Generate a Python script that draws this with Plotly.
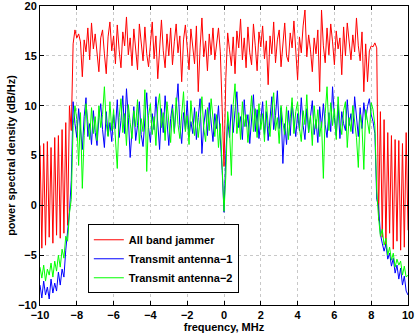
import plotly.graph_objects as go

# frequency grid, MHz (0.1 MHz steps from -10 to 10)
F_START = -10.0
F_STEP = 0.1

jammer = [
    6.0, -4.3, 6.2, -4.0, 6.4, -3.2, 5.8, -3.8, 6.8, -3.0,
    7.0, -3.3, 7.6, -2.8, 8.3, -2.0, 10.0, 7.5, 16.2, 17.6,
    16.8, 17.2, 16.4, 12.9, 16.6, 15.4, 17.8, 14.6, 18.3, 15.7,
    17.2, 15.0, 13.4, 16.8, 17.6, 15.2, 13.2, 16.9, 18.4, 15.5,
    17.0, 14.2, 18.1, 15.6, 13.8, 17.4, 16.0, 18.9, 15.1, 16.8,
    14.0, 17.7, 15.3, 13.6, 18.2, 16.1, 14.5, 17.9, 15.2, 13.9,
    16.6, 18.4, 14.7, 17.0, 12.7, 16.3, 18.6, 15.5, 13.8, 17.2,
    15.0, 17.8, 14.1, 16.4, 18.2, 15.3, 17.0, 12.4, 16.6, 18.1,
    15.4, 13.6, 17.7, 16.0, 14.2, 18.0, 11.4, 15.8, 18.8, 14.9,
    16.5, 13.5, 17.2, 15.1, 17.8, 14.6, 16.3, 17.8, 15.4, 10.5,
    3.9, 12.8, 17.3, 15.6, 14.0, 16.9, 13.2, 17.5, 15.8, 18.7,
    14.6, 16.8, 13.8, 17.9, 15.3, 14.1, 18.2, 16.0, 13.5, 17.4,
    15.9, 18.0, 14.7, 16.5, 12.1, 17.0, 15.2, 18.4, 14.3, 16.6,
    17.6, 13.9, 16.2, 18.3, 15.0, 14.4, 17.3, 15.8, 18.5, 14.8,
    12.6, 16.9, 15.3, 18.0, 19.6, 14.9, 17.1, 15.6, 13.4, 16.8,
    15.2, 17.6, 11.4, 19.6, 16.0, 14.3, 17.8, 15.1, 18.2, 16.4,
    14.1, 17.5, 15.7, 16.8, 13.1, 17.9, 15.0, 18.3, 16.2, 14.6,
    17.1, 15.4, 18.8, 16.0, 14.5, 17.4, 11.4, 16.2, 12.4, 15.5,
    16.0, 15.9, 16.3, 15.8, -1.5, 9.4, -3.2, 8.6, -4.0, 7.3,
    -2.8, 7.0, -4.4, 6.6, -3.6, 6.5, -4.5, 6.2, -4.2, 7.3,
    -2.5,
]

antenna1 = [
    -8.0, -9.3, -7.6, -9.0, -8.2, -9.4, -7.4, -8.8, -7.8, -8.6,
    -6.7, -8.0, -6.4, -7.2, -4.5, -2.7, -0.7, 2.5, 10.4, 8.2,
    6.8, 9.7, 7.4, 5.6, 8.9, 10.8, 6.9, 8.2, 6.1, 9.5,
    7.3, 6.0, 8.8, 10.2, 7.6, 5.8, 9.4, 7.0, 8.3, 6.4,
    9.1, 7.7, 10.6, 6.8, 8.5, 11.0, 7.2, 11.7, 8.8, 4.8,
    7.5, 9.9, 6.5, 8.0, 10.4, 7.1, 5.9, 9.0, 11.3, 7.8,
    6.3, 9.2, 7.6, 10.9, 8.4, 5.6, 9.7, 7.3, 11.0, 8.1,
    6.0, 8.7, 10.1, 7.4, 9.5, 12.2, 8.0, 6.2, 9.3, 7.6,
    10.5, 6.9, 8.4, 7.2, 9.8, 6.6, 8.8, 10.7, 5.2, 8.0,
    9.6, 7.0, 10.3, 8.1, 6.4, 9.2, 7.7, 10.0, 6.9, 3.5,
    -0.7, 5.2, 8.6, 6.8, 10.1, 7.3, 9.5, 11.4, 7.8, 8.9,
    6.6, 10.6, 7.9, 9.1, 6.2, 8.6, 11.1, 7.4, 9.6, 6.7,
    8.3, 10.4, 7.1, 9.4, 6.5, 8.7, 10.9, 7.6, 9.0, 11.5,
    7.7, 9.8, 4.2, 8.2, 6.1, 9.5, 7.0, 10.3, 8.4, 6.9,
    9.2, 7.5, 10.8, 8.0, 6.6, 9.7, 7.3, 8.9, 10.5, 7.1,
    8.6, 6.3, 9.9, 7.8, 10.2, 8.1, 6.8, 9.3, 7.4, 11.9,
    8.8, 7.0, 10.1, 6.7, 9.4, 8.2, 7.5, 10.6, 8.0, 9.2,
    7.2, 10.9, 8.5, 6.9, 9.8, 7.7, 10.3, 8.6, 9.9, 10.7,
    9.1, 8.4, 7.2, 0.6, -0.1, -2.9, -3.8, -4.6, -3.9, -5.4,
    -4.8, -6.1, -5.3, -6.8, -6.0, -7.4, -6.3, -8.0, -7.1, -8.6,
    -9.0,
]

antenna2 = [
    -6.2, -7.3, -6.0, -7.6, -6.4, -7.0, -5.8, -7.2, -5.6, -6.6,
    -5.0, -6.2, -4.4, -5.3, -3.1, -3.6, -0.8, 0.6, 8.0, 10.0,
    8.6, 4.0, 9.3, 1.7, 7.0, 10.2, 8.4, 6.6, 9.8, 7.2,
    8.9, 6.5, 10.0, 7.8, 9.1, 11.9, 8.2, 6.9, 10.4, 7.5,
    9.6, 6.4, 3.7, 8.8, 10.7, 7.3, 9.2, 6.0, 10.1, 8.3,
    6.7, 9.5, 7.9, 10.6, 6.2, 8.7, 7.4, 11.6, 3.4, 9.0,
    10.2, 7.1, 8.9, 6.0, 9.9, 11.2, 7.8, 9.3, 6.5, 10.4,
    8.0, 6.3, 9.7, 7.2, 10.8, 8.1, 6.7, 9.6, 11.4, 7.4,
    9.0, 6.1, 10.5, 8.3, 7.0, 9.4, 6.8, 8.6, 10.9, 7.7,
    6.4, 9.8, 7.5, 10.7, 8.6, 6.9, 9.1, 5.8, 8.2, 4.5,
    -0.6, 3.0, 9.4, 7.6, 3.0, 10.1, 12.2, 7.2, 9.3, 6.6,
    10.4, 7.9, 9.1, 6.3, 8.5, 11.0, 7.4, 9.7, 6.8, 10.2,
    7.6, 9.2, 6.4, 10.5, 8.0, 6.9, 9.6, 11.3, 7.5, 8.8,
    6.2, 10.0, 8.3, 7.1, 9.9, 6.6, 8.7, 10.8, 7.2, 9.4,
    10.4, 7.8, 6.4, 9.5, 8.1, 11.1, 7.3, 9.0, 6.0, 10.0,
    7.7, 9.6, 6.9, 8.4, 2.7, 9.2, 11.9, 7.5, 10.3, 8.0,
    9.7, 6.6, 10.9, 8.2, 7.1, 9.5, 10.4, 5.8, 8.8, 7.4,
    10.0, 8.3, 6.8, 3.8, 9.1, 7.9, 3.6, 9.6, 8.4, 7.2,
    10.3, 9.6, 8.0, 1.5, -1.2, -3.1, -2.4, -4.0, -3.3, -5.0,
    -4.2, -5.5, -4.8, -6.2, -5.4, -6.0, -5.6, -7.0, -6.1, -7.2,
    -7.0,
]

x_ticks = [-10, -8, -6, -4, -2, 0, 2, 4, 6, 8, 10]
y_ticks = [-10, -5, 0, 5, 10, 15, 20]

freq = [round(F_START + F_STEP * i, 1) for i in range(len(jammer))]

series = (
    ("All band jammer", jammer, "#ff0000"),
    ("Transmit antenna\u22121", antenna1, "#0000ff"),
    ("Transmit antenna\u22122", antenna2, "#00ff00"),
)

fig = go.Figure()
for name, values, color in series:
    fig.add_trace(
        go.Scatter(x=freq, y=values, mode="lines", name=name, line=dict(color=color, width=1))
    )

font = dict(family="Liberation Sans, Arial, sans-serif", size=11, color="black", weight="bold")
axis_style = dict(
    automargin=False,
    showline=True,
    linecolor="black",
    linewidth=1,
    mirror="ticks",
    ticks="inside",
    ticklen=4,
    tickcolor="black",
    ticklabeloverflow="allow",
    showgrid=True,
    gridcolor="#c8c8c8",
    griddash="dot",
    gridwidth=1,
    zeroline=False,
    tickfont=font,
)

fig.update_layout(
    width=415,
    height=335,
    margin=dict(l=40, r=7, t=6, b=30, autoexpand=False),
    paper_bgcolor="white",
    plot_bgcolor="white",
    font=font,
    showlegend=True,
    legend=dict(
        x=0.13,
        y=0.27,
        xanchor="left",
        yanchor="top",
        bgcolor="white",
        bordercolor="black",
        borderwidth=1,
        font=font,
        tracegroupgap=0,
    ),
)
fig.update_xaxes(
    range=[-10, 10],
    tickvals=x_ticks,
    title=dict(text="frequency, MHz", font=font, standoff=1),
    **axis_style,
)
fig.update_yaxes(
    range=[-10, 20],
    tickvals=y_ticks,
    title=dict(text="power spectral density (dB/Hz)", font=font, standoff=0),
    **axis_style,
)

# the page's default body margin would push the 415x335 figure off the window
fig.write_html(
    "out.html",
    config={"displayModeBar": False},
    post_script="document.body.style.margin = '0';",
)
